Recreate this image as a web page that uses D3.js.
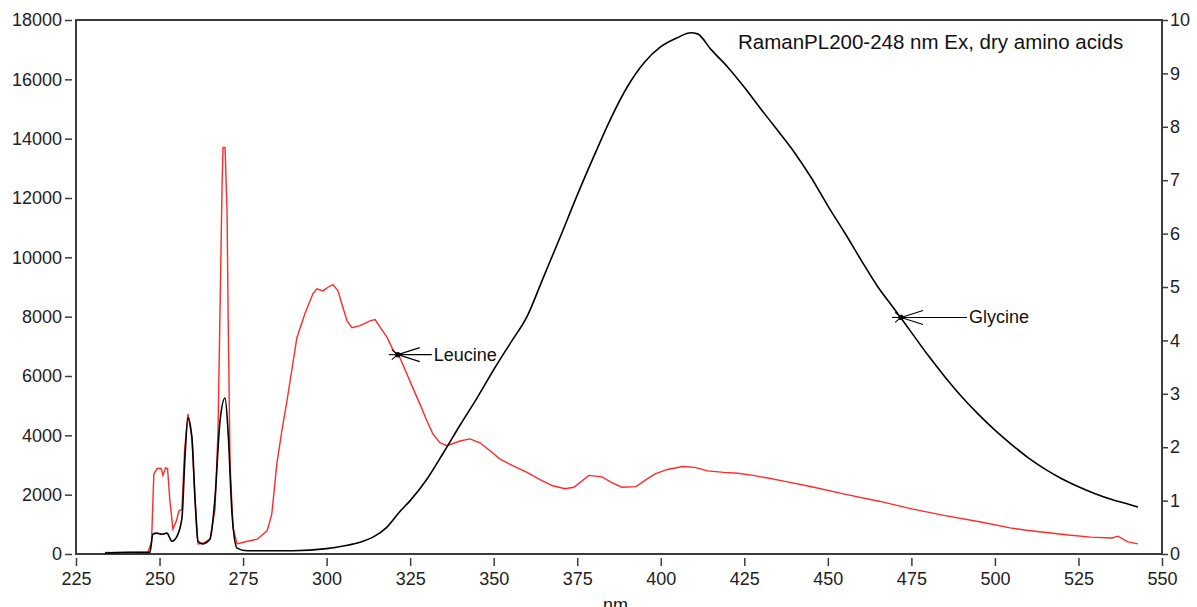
<!DOCTYPE html>
<html><head><meta charset="utf-8">
<script src="https://cdn.jsdelivr.net/npm/d3@7"></script>
<style>body{margin:0;background:#fff} svg{display:block}</style>
</head><body><svg id="c" width="1197" height="607"></svg>
<script>
const title = "RamanPL200-248 nm Ex, dry amino acids";
const xLabel = "nm";
const xTicks = [225,250,275,300,325,350,375,400,425,450,475,500,525,550];
const leftTicks = [0,2000,4000,6000,8000,10000,12000,14000,16000,18000];
const rightTicks = [0,1,2,3,4,5,6,7,8,9,10];

// Leucine (red), left axis counts
const leucineNm = [233.7,240,246.5,247.6,248.3,249.3,250.5,251.0,251.8,252.4,253.1,254.0,255.0,255.8,256.7,257.5,258.5,259.7,260.6,261.5,263.0,265.1,266.6,267.5,268.1,268.7,269.0,269.6,270.2,270.5,271.1,272.0,273.2,276.0,279.2,282.2,283.6,285.1,286.6,288.2,291.1,293.5,295.9,297.1,298.9,300.5,301.9,303.4,304.9,306.1,307.6,310.0,313.0,314.5,316.0,318.1,320.0,322.0,324.0,325.8,327.9,330.0,331.8,333.9,336.0,339.9,342.9,345.9,348.9,351.9,355.8,360.0,364.0,367.7,371.3,374.0,378.5,382.4,385.5,388.4,392.6,395.5,398.3,402.0,406.6,410.2,414.0,418.9,423.0,427.6,432.0,437.2,445.8,455.7,465.3,475.1,484.7,495.8,504.5,510.0,516.7,522.0,528.7,535.0,536.8,539.8,542.8];
const leucineCounts = [50,40,60,400,2700,2880,2880,2650,2900,2880,1800,840,1100,1450,1500,3500,4720,3900,1900,340,360,500,1500,4150,8200,12350,13700,13700,11580,8300,3040,880,340,420,500,780,1350,3040,4150,5200,7290,8100,8770,8940,8870,9000,9080,8870,8300,7860,7630,7700,7860,7900,7650,7300,6850,6600,6075,5600,5060,4490,4050,3750,3650,3810,3880,3750,3480,3200,2970,2750,2500,2300,2200,2250,2650,2600,2400,2250,2270,2500,2700,2850,2950,2920,2800,2750,2720,2650,2560,2450,2250,2000,1780,1520,1300,1080,880,790,710,640,570,540,600,410,340];

// Glycine (black), right axis
const glycineNm = [233.7,240,247.1,248.0,249.2,250.7,252.2,253.7,255.2,256.7,257.6,258.5,259.7,260.6,261.5,263.0,265.1,266.6,268.1,269.6,270.5,271.7,273.2,276.2,290,300,305,310,314,318,322,325,330,335,340,345,350,355,360,365,370,375,380,385,390,395,400,405,409,411,415,420,425,430,435,440,445,450,455,460,465,470,475,480,485,490,495,500,505,510,515,520,525,530,535,540,542.8];
const glycineValues = [0.02,0.03,0.03,0.37,0.39,0.37,0.39,0.24,0.33,0.67,1.80,2.55,2.17,1.05,0.24,0.19,0.28,1.05,2.49,2.92,2.31,0.75,0.11,0.06,0.06,0.10,0.15,0.22,0.32,0.50,0.80,1.00,1.40,1.90,2.42,2.92,3.45,3.95,4.45,5.20,5.95,6.72,7.45,8.15,8.75,9.20,9.50,9.67,9.76,9.74,9.45,9.12,8.74,8.33,7.93,7.52,7.05,6.52,6.02,5.50,5.00,4.58,4.15,3.72,3.32,2.95,2.62,2.32,2.05,1.80,1.59,1.41,1.26,1.13,1.02,0.93,0.88];

const annotations = [
  {name:"Leucine", nm:321.3, value:6720, axis:"left"},
  {name:"Glycine", nm:471.9, value:4.43, axis:"right"}
];

const svg = d3.select("#c");
const L = 76, R = 1162, T = 20, B = 554;
const x = d3.scaleLinear().domain([225,550]).range([L,R]);
const yL = d3.scaleLinear().domain([0,18000]).range([B,T]);
const yR = d3.scaleLinear().domain([0,10]).range([B,T]);
const font = "'Liberation Sans', Arial, sans-serif";
const axisColor = "#3c3c3c";

function styleAxis(g){
  g.select(".domain").remove();
  g.selectAll(".tick line").attr("stroke", axisColor).attr("stroke-width", 1.5);
  g.selectAll(".tick text").attr("fill", "#222").style("font-family", font).style("font-size", "18px");
}

svg.append("g").attr("transform", `translate(${L-4},0)`)
  .call(d3.axisLeft(yL).tickValues(leftTicks).tickFormat(d3.format("d")).tickSize(7).tickPadding(3))
  .call(styleAxis);
svg.append("g").attr("transform", `translate(${R},0)`)
  .call(d3.axisRight(yR).tickValues(rightTicks).tickFormat(d3.format("d")).tickSize(6).tickPadding(2))
  .call(styleAxis);
svg.append("g").attr("transform", `translate(0,${B+4})`)
  .call(d3.axisBottom(x).tickValues(xTicks).tickFormat(d3.format("d")).tickSize(8).tickPadding(6))
  .call(styleAxis);

// frame
svg.append("rect").attr("x", L).attr("y", T).attr("width", R-L).attr("height", B-T)
  .attr("fill", "none").attr("stroke", axisColor).attr("stroke-width", 2);

const red = leucineNm.map((n,i)=>[n, leucineCounts[i]]);
const blk = glycineNm.map((n,i)=>[n, glycineValues[i]]);

svg.append("path").datum(red)
  .attr("d", d3.line().x(d=>x(d[0])).y(d=>yL(d[1])))
  .attr("fill","none").attr("stroke","#ff2a2a").attr("stroke-width",1.4);
svg.append("path").datum(blk)
  .attr("d", d3.line().curve(d3.curveMonotoneX).x(d=>x(d[0])).y(d=>yR(d[1])))
  .attr("fill","none").attr("stroke","#000").attr("stroke-width",1.6);

// annotations
const labelOffset = {Leucine: 36, Glycine: 68};
annotations.forEach(a=>{
  const px = x(a.nm), py = (a.axis==="left" ? yL : yR)(a.value);
  const g = svg.append("g").attr("stroke","#000").attr("stroke-width",1.1);
  const off = labelOffset[a.name];
  g.append("line").attr("x1",px).attr("y1",py).attr("x2",px+off-2).attr("y2",py);
  g.append("line").attr("x1",px).attr("y1",py).attr("x2",px+22).attr("y2",py-7);
  g.append("line").attr("x1",px).attr("y1",py).attr("x2",px+22).attr("y2",py+7);
  g.append("line").attr("x1",px).attr("y1",py).attr("x2",px-9).attr("y2",py);
  g.append("line").attr("x1",px).attr("y1",py).attr("x2",px-6).attr("y2",py-5);
  g.append("line").attr("x1",px).attr("y1",py).attr("x2",px-6).attr("y2",py+5);
  svg.append("circle").attr("cx",px).attr("cy",py).attr("r",2.6).attr("fill","#000");
  svg.append("text").attr("x",px+off).attr("y",py+6).text(a.name)
    .style("font-family",font).style("font-size","18px").attr("fill","#111");
});

// title
svg.append("text").attr("x",738).attr("y",49).text(title)
  .style("font-family","Arial, 'Liberation Sans', sans-serif").style("font-size","20.5px").attr("fill","#111");
// x label (partly below the bottom edge, as in the reference)
svg.append("text").attr("x",603).attr("y",611).text(xLabel)
  .style("font-family",font).style("font-size","18px").attr("fill","#111");
</script></body></html>
